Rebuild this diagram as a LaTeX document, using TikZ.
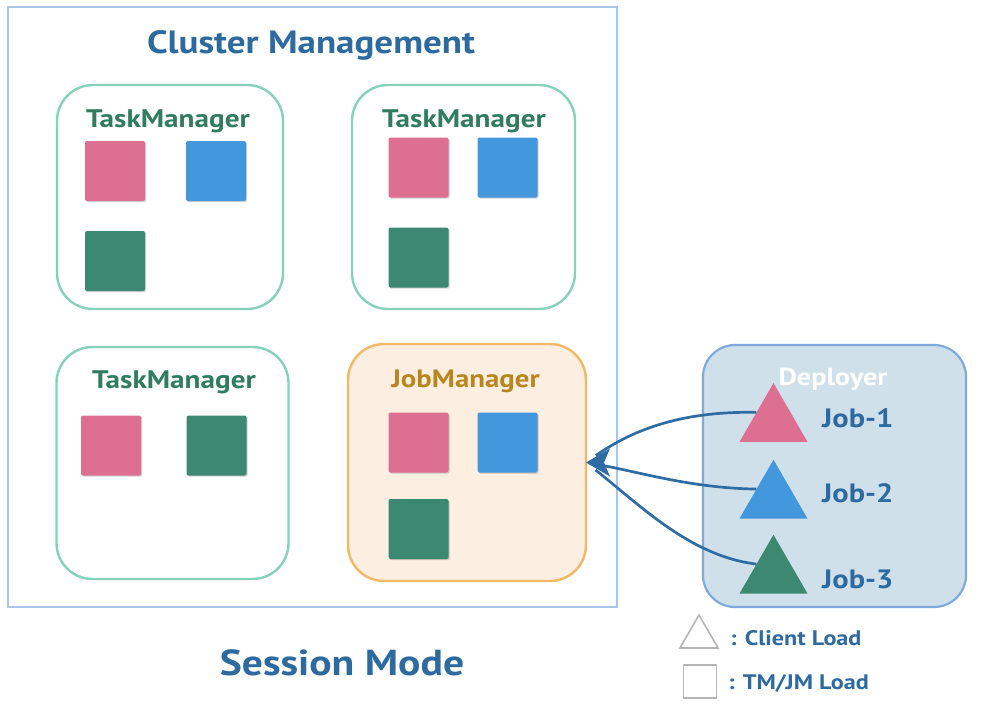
\documentclass[tikz,border=0pt]{standalone}
\usepackage{fontspec}
\setmainfont[FakeStretch=1.15]{PT Sans}
\usetikzlibrary{shapes.geometric,arrows.meta,shadows}
\definecolor{outerb}{HTML}{A8C5EC}
\definecolor{titleblue}{HTML}{2D6A9F}
\definecolor{tmborder}{HTML}{86D2B6}
\definecolor{tmtext}{HTML}{2F7D5E}
\definecolor{cpink}{HTML}{DD6F93}
\definecolor{cblue}{HTML}{4397DC}
\definecolor{cgreen}{HTML}{3C8870}
\definecolor{jmfill}{HTML}{FCEFE2}
\definecolor{jmborder}{HTML}{F2B866}
\definecolor{jmtext}{HTML}{B8861E}
\definecolor{depfill}{HTML}{CFE0EA}
\definecolor{depborder}{HTML}{7FAADE}
\definecolor{arrowc}{HTML}{2E6CA3}
\definecolor{leggray}{HTML}{B5B5B5}
\tikzset{
  mgr/.style={draw=tmborder, line width=2.4pt, rounded corners=36pt, inner sep=0pt, outer sep=0pt},
  jmbox/.style={draw=jmborder, fill=jmfill, line width=2.4pt, rounded corners=36pt, inner sep=0pt, outer sep=0pt},
  tmtitle/.style={anchor=base, inner sep=0pt, text=tmtext, font=\bfseries\fontsize{25.4}{30}\selectfont},
  sq/.style={minimum width=60pt, minimum height=60pt, inner sep=0pt, rounded corners=2pt,
     drop shadow={shadow xshift=1.2pt, shadow yshift=-1.2pt, opacity=0.18, fill=black}},
  tri/.style={regular polygon, regular polygon sides=3, minimum size=78.6pt, inner sep=0pt},
  joblabel/.style={anchor=base west, inner sep=0pt, text=titleblue, font=\bfseries\fontsize{26.5}{32}\selectfont},
  conn/.style={draw=arrowc, line width=2.7pt, shorten >=12pt},
  arrowhead/.style={fill=arrowc},
  legtext/.style={anchor=base west, inner sep=0pt, text=titleblue, font=\bfseries\fontsize{21}{25}\selectfont},
}
\begin{document}
\begin{tikzpicture}[x=1pt,y=-1pt]
\useasboundingbox (0,0) rectangle (990,726);
% outer cluster
\node[draw=outerb, line width=2.2pt, minimum width=609pt, minimum height=600pt, inner sep=0pt] (cluster) at (312.5,307) {};
\node[anchor=base, inner sep=0pt, text=titleblue, font=\bfseries\fontsize{32.2}{38}\selectfont] (ctitle) at (311,53) {Cluster Management};
% TaskManager 1
\node[mgr, minimum width=226pt, minimum height=224pt] (tm1) at (170,197) {};
\node[tmtitle] (tm1t) at (168,127) {TaskManager};
\node[sq, fill=cpink] (tm1p) at (115,171) {};
\node[sq, fill=cblue] (tm1b) at (216,171) {};
\node[sq, fill=cgreen] (tm1g) at (115,261) {};
% TaskManager 2
\node[mgr, minimum width=223pt, minimum height=224pt] (tm2) at (463.5,197) {};
\node[tmtitle] (tm2t) at (464,127) {TaskManager};
\node[sq, fill=cpink] (tm2p) at (418.5,167.5) {};
\node[sq, fill=cblue] (tm2b) at (507.5,167.5) {};
\node[sq, fill=cgreen] (tm2g) at (418.5,257.5) {};
% TaskManager 3
\node[mgr, minimum width=232pt, minimum height=232pt] (tm3) at (172.5,463) {};
\node[tmtitle] (tm3t) at (174,388) {TaskManager};
\node[sq, fill=cpink] (tm3p) at (111,445.5) {};
\node[sq, fill=cgreen] (tm3g) at (216.5,445.5) {};
% JobManager
\node[jmbox, minimum width=238pt, minimum height=237pt] (jm) at (467,462.5) {};
\node[anchor=base, inner sep=0pt, text=jmtext, font=\bfseries\fontsize{25.1}{30}\selectfont] (jmt) at (465.5,387) {JobManager};
\node[sq, fill=cpink] (jmp) at (418.5,442.5) {};
\node[sq, fill=cblue] (jmb) at (507.5,442.5) {};
\node[sq, fill=cgreen] (jmg) at (418.5,529) {};
% Deployer
\node[draw=depborder, fill=depfill, line width=2.2pt, rounded corners=32pt, minimum width=263pt, minimum height=262pt, inner sep=0pt] (dep) at (834.5,476) {};
\node[anchor=base, inner sep=0pt, text=white, font=\bfseries\fontsize{24.6}{28}\selectfont] (dept) at (833,385) {Deployer};
\node[tri, fill=cpink] (j1) at (773.5,422.3) {};
\node[tri, fill=cblue] (j2) at (773.5,499) {};
\node[tri, fill=cgreen] (j3) at (773.5,574) {};
\node[joblabel] (j1t) at (822,427) {Job-1};
\node[joblabel] (j2t) at (822,502) {Job-2};
\node[joblabel] (j3t) at (822,588) {Job-3};
% connectors
\draw[conn] (j1.side 1) .. controls (685,411) and (635,428) .. (jm.east);
\draw[conn] (j2.side 1) .. controls (690,488) and (640,472) .. (jm.east);
\draw[conn] (j3.side 1) .. controls (690,556) and (640,505) .. (jm.east);
\fill[arrowhead] (jm.east) -- ++(24,-14) -- ++(-6,14) -- ++(6,14) -- cycle;
% legend
\node[regular polygon, regular polygon sides=3, minimum size=44pt, inner sep=0pt, draw=leggray, line width=1.6pt] (legtri) at (699,637) {};
\node[legtext] (legt1) at (730,645) {: Client Load};
\node[draw=leggray, line width=1.6pt, minimum width=33pt, minimum height=33pt, inner sep=0pt] (legsq) at (700,681.5) {};
\node[legtext] (legt2) at (728,689) {: TM/JM Load};
% session mode
\node[anchor=base, inner sep=0pt, text=titleblue, font=\bfseries\fontsize{36.2}{42}\selectfont] (smode) at (342,675) {Session Mode};
\end{tikzpicture}
\end{document}
